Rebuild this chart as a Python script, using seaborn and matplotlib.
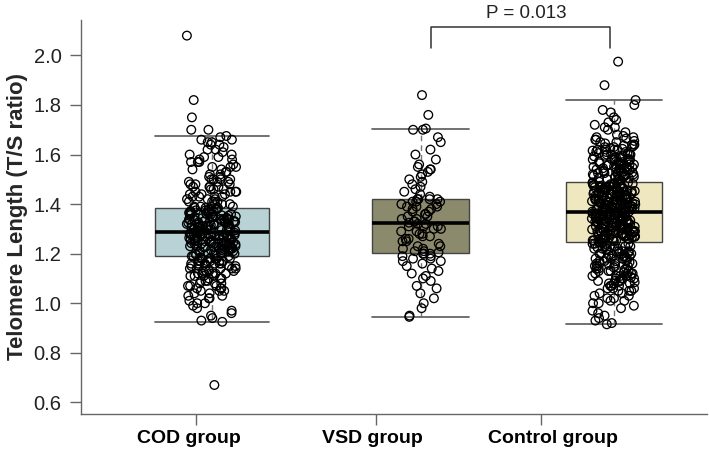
import numpy as np
import pandas as pd
import matplotlib
matplotlib.use("Agg")
import matplotlib.pyplot as plt
import seaborn as sns

# === Data (T/S ratio values) ===
groups = ["COD group", "VSD group", "Control group"]
box_colors = ["#b8d2d5", "#8c8a6c", "#efe7bf"]

cod_values = [
    0.67,
    0.925, 0.93, 0.94, 0.96, 0.97, 0.99, 1.00, 1.01, 1.02, 1.03, 1.04, 1.05, 1.05, 1.06,
    1.07, 1.07, 1.08, 1.08, 1.09, 1.09, 1.10, 1.10, 1.11, 1.11, 1.12, 1.12, 1.12, 1.13,
    1.13, 1.14, 1.14, 1.14, 1.15, 1.15, 1.15, 1.16, 1.16, 1.16, 1.17, 1.17, 1.17, 1.17,
    1.18, 1.18, 1.18, 1.18, 1.185, 1.185, 1.02, 0.98, 1.06, 1.12, 1.16,
    0.95, 1.00, 1.03, 1.05, 1.06, 1.08, 1.09, 1.10, 1.11, 1.12, 1.13, 1.13, 1.14, 1.15,
    1.15, 1.16, 1.16, 1.17, 1.17, 1.18, 1.18, 1.07, 1.11, 1.14, 1.04,
    1.19, 1.19, 1.192, 1.195, 1.20, 1.20, 1.202, 1.205, 1.207, 1.21, 1.21, 1.212, 1.215,
    1.218, 1.22, 1.22, 1.222, 1.224, 1.226, 1.228, 1.23, 1.23, 1.232, 1.235, 1.238,
    1.24, 1.24, 1.242, 1.244, 1.246, 1.248, 1.25, 1.25, 1.252, 1.254, 1.256, 1.258,
    1.26, 1.26, 1.262, 1.264, 1.266, 1.268, 1.27, 1.27, 1.272, 1.274, 1.276, 1.278,
    1.28, 1.28, 1.282, 1.284, 1.286,
    1.19, 1.20, 1.21, 1.215, 1.22, 1.225, 1.23, 1.235, 1.24, 1.245, 1.25, 1.255, 1.26,
    1.265, 1.27, 1.275, 1.28, 1.28, 1.20, 1.22, 1.24, 1.26, 1.27, 1.23, 1.25,
    1.29, 1.29, 1.292, 1.294, 1.296, 1.298, 1.30, 1.30, 1.302, 1.304, 1.306, 1.308,
    1.31, 1.31, 1.312, 1.314, 1.316, 1.318, 1.32, 1.32, 1.323, 1.326, 1.328, 1.33,
    1.33, 1.332, 1.334, 1.336, 1.338, 1.34, 1.34, 1.343, 1.346, 1.348, 1.35, 1.35,
    1.353, 1.356, 1.358, 1.36, 1.36, 1.363, 1.366, 1.368, 1.37, 1.372, 1.375, 1.378,
    1.38, 1.381, 1.383, 1.384, 1.385, 1.385,
    1.29, 1.295, 1.30, 1.305, 1.31, 1.315, 1.32, 1.325, 1.33, 1.335, 1.34, 1.345, 1.35,
    1.355, 1.36, 1.365, 1.37, 1.375, 1.38, 1.30, 1.32, 1.34, 1.36, 1.31, 1.33,
    1.39, 1.39, 1.40, 1.40, 1.41, 1.41, 1.42, 1.42, 1.43, 1.43, 1.44, 1.44, 1.45, 1.45,
    1.46, 1.46, 1.47, 1.47, 1.48, 1.48, 1.49, 1.49, 1.50, 1.50, 1.51, 1.52, 1.52, 1.53,
    1.54, 1.55, 1.55, 1.56, 1.57, 1.58, 1.58, 1.59, 1.60, 1.61, 1.62, 1.63, 1.64, 1.65,
    1.65, 1.66, 1.66, 1.67, 1.675, 1.60, 1.57,
    1.39, 1.40, 1.41, 1.42, 1.43, 1.44, 1.45, 1.46, 1.47, 1.48, 1.49, 1.50, 1.51, 1.53,
    1.55, 1.57, 1.59, 1.62, 1.64, 1.41, 1.43, 1.45, 1.47, 1.50, 1.54,
    1.70, 1.70, 1.75, 1.82, 2.08,
]

vsd_values = [
    0.945, 0.95, 0.98, 1.00, 1.02, 1.04, 1.06, 1.07, 1.09, 1.10, 1.11, 1.12, 1.13, 1.14,
    1.15, 1.16, 1.17, 1.17, 1.18, 1.18, 1.19, 1.19, 1.20, 1.20, 1.20,
    1.205, 1.21, 1.21, 1.22, 1.22, 1.23, 1.23, 1.24, 1.25, 1.25, 1.26, 1.26, 1.27, 1.27,
    1.28, 1.28, 1.29, 1.29, 1.30, 1.30, 1.31, 1.31, 1.31, 1.32, 1.32,
    1.325, 1.33, 1.33, 1.34, 1.34, 1.35, 1.35, 1.36, 1.36, 1.37, 1.37, 1.38, 1.38, 1.39,
    1.39, 1.39, 1.40, 1.40, 1.41, 1.41, 1.41, 1.42, 1.42, 1.42, 1.42,
    1.43, 1.44, 1.45, 1.46, 1.47, 1.48, 1.49, 1.50, 1.51, 1.52, 1.53, 1.54, 1.54, 1.55,
    1.56, 1.58, 1.60, 1.62, 1.65, 1.67, 1.70, 1.70, 1.705, 1.76, 1.84,
]

control_values = [
    0.915, 0.92, 0.93, 0.95, 0.96, 0.98, 0.99, 1.00, 1.00, 1.01, 1.02, 1.02, 1.03, 1.04,
    1.04, 1.05, 1.05, 1.06, 1.06, 1.07, 1.07, 1.08, 1.08, 1.085, 1.09, 1.09, 1.10, 1.10,
    1.105, 1.11, 1.11, 1.12, 1.12, 1.125, 1.13, 1.13, 1.135, 1.14, 1.14, 1.145, 1.15,
    1.15, 1.155, 1.16, 1.16, 1.165, 1.17, 1.17, 1.175, 1.18, 1.18, 1.185, 1.19, 1.19,
    1.195, 1.20, 1.20, 1.205, 1.21, 1.21, 1.215, 1.22, 1.22, 1.225, 1.23, 1.23, 1.235,
    1.24, 1.24, 1.245, 1.245,
    0.94, 0.97, 1.01, 1.03, 1.05, 1.06, 1.07, 1.08, 1.09, 1.10, 1.11, 1.12, 1.13, 1.14,
    1.15, 1.16, 1.17, 1.18, 1.19, 1.20, 1.21, 1.22, 1.23, 1.24, 1.10, 1.12, 1.14, 1.16,
    1.18, 1.20, 1.22, 1.24, 1.13, 1.15, 1.17, 1.19, 1.21, 1.23, 1.09, 1.11,
    1.25, 1.252, 1.254, 1.256, 1.258, 1.259, 1.26, 1.262, 1.264, 1.266, 1.268, 1.269,
    1.27, 1.272, 1.274, 1.276, 1.278, 1.279, 1.28, 1.282, 1.284, 1.286, 1.288, 1.289,
    1.29, 1.292, 1.294, 1.296, 1.298, 1.299, 1.30, 1.302, 1.304, 1.306, 1.308, 1.309,
    1.31, 1.312, 1.314, 1.316, 1.318, 1.319, 1.32, 1.322, 1.324, 1.326, 1.328, 1.329,
    1.33, 1.332, 1.334, 1.336, 1.338, 1.339, 1.34, 1.342, 1.344, 1.346, 1.348, 1.349,
    1.35, 1.352, 1.354, 1.356, 1.358, 1.359, 1.36, 1.361, 1.362, 1.363, 1.364,
    1.25, 1.253, 1.257, 1.26, 1.263, 1.267, 1.27, 1.273, 1.277, 1.28, 1.283, 1.287,
    1.29, 1.293, 1.297, 1.30, 1.303, 1.307, 1.31, 1.313, 1.317, 1.32, 1.323, 1.327,
    1.33, 1.333, 1.337, 1.34, 1.343, 1.347, 1.35, 1.353, 1.357, 1.36, 1.362,
    1.27, 1.29, 1.31, 1.33, 1.35,
    1.37, 1.372, 1.374, 1.376, 1.378, 1.379, 1.38, 1.382, 1.384, 1.386, 1.388, 1.389,
    1.39, 1.392, 1.394, 1.396, 1.398, 1.399, 1.40, 1.402, 1.404, 1.406, 1.408, 1.409,
    1.41, 1.412, 1.414, 1.416, 1.418, 1.419, 1.42, 1.422, 1.424, 1.426, 1.428, 1.429,
    1.43, 1.432, 1.434, 1.436, 1.438, 1.439, 1.44, 1.442, 1.444, 1.446, 1.448, 1.449,
    1.45, 1.452, 1.454, 1.456, 1.458, 1.459, 1.46, 1.462, 1.464, 1.466, 1.468, 1.469,
    1.47, 1.472, 1.474, 1.476, 1.478, 1.48, 1.482, 1.484, 1.486, 1.488, 1.49,
    1.37, 1.373, 1.377, 1.38, 1.383, 1.387, 1.39, 1.393, 1.397, 1.40, 1.403, 1.407,
    1.41, 1.413, 1.417, 1.42, 1.423, 1.427, 1.43, 1.433, 1.437, 1.44, 1.443, 1.447,
    1.45, 1.453, 1.457, 1.46, 1.463, 1.467, 1.47, 1.473, 1.477, 1.48, 1.485,
    1.38, 1.40, 1.42, 1.44, 1.46,
    1.495, 1.50, 1.502, 1.505, 1.508, 1.51, 1.512, 1.515, 1.518, 1.52, 1.522, 1.525,
    1.528, 1.53, 1.532, 1.535, 1.538, 1.54, 1.542, 1.545, 1.548, 1.55, 1.552, 1.555,
    1.558, 1.56, 1.563, 1.566, 1.57, 1.572, 1.575, 1.578, 1.58, 1.583, 1.586, 1.59,
    1.593, 1.596, 1.60, 1.603, 1.606, 1.61, 1.613, 1.616, 1.62, 1.623, 1.626, 1.63,
    1.633, 1.636, 1.64, 1.645, 1.65, 1.655, 1.66, 1.665, 1.67, 1.675, 1.68, 1.70, 1.71,
    1.72, 1.73, 1.75, 1.78, 1.80, 1.82, 1.88, 1.975, 1.60, 1.62,
    1.50, 1.505, 1.51, 1.515, 1.52, 1.525, 1.53, 1.535, 1.54, 1.545, 1.55, 1.555, 1.56,
    1.565, 1.57, 1.575, 1.58, 1.585, 1.59, 1.595, 1.60, 1.61, 1.62, 1.63, 1.64, 1.65,
    1.66, 1.67, 1.69, 1.71, 1.74, 1.77, 1.52, 1.54, 1.56, 1.58, 1.60, 1.62, 1.64, 1.51,
]

y_ticks = [0.6, 0.8, 1.0, 1.2, 1.4, 1.6, 1.8, 2.0]
p_text = "P = 0.013"

# layout (axes-width units): box centres, tick marks, label centres, box widths, jitter
box_pos = [0.209, 0.543, 0.851]
tick_pos = [0.184, 0.471, 0.735]
label_pos = [0.1725, 0.466, 0.754]
box_width = [0.182, 0.155, 0.153]
jitter = [0.040, 0.032, 0.035]

all_values = [cod_values, vsd_values, control_values]

np.random.seed(3)
sns.set_style("ticks")
plt.rcParams["font.family"] = ["Liberation Sans", "DejaVu Sans"]

fig = plt.figure(figsize=(7.09, 4.54), dpi=100)
ax = fig.add_axes([81 / 709, 1 - 414 / 454, 626 / 709, 394 / 454])

for i, vals in enumerate(all_values):
    df = pd.DataFrame({"x": [box_pos[i]] * len(vals), "y": vals})
    sns.boxplot(data=df, x="x", y="y", native_scale=True, width=box_width[i],
                color=box_colors[i], saturation=1, showfliers=False,
                linecolor="#444444", linewidth=1.0,
                whiskerprops=dict(linestyle=(0, (4, 3)), color="#777777", linewidth=1.0),
                capprops=dict(color="#666666", linewidth=1.3),
                medianprops=dict(color="black", linewidth=2.6),
                capwidths=box_width[i], ax=ax)
    sns.stripplot(data=df, x="x", y="y", native_scale=True, jitter=jitter[i],
                  color="black", facecolors="none", edgecolor="black",
                  linewidth=0.95, size=6.2, ax=ax)

ax.set_xlim(0, 1)
ax.set_ylim(0.553, 2.143)
ax.set_yticks(y_ticks)
ax.set_yticklabels([f"{t:.1f}" for t in y_ticks], fontsize=14.5, color="#222222")
ax.set_xticks(tick_pos)
ax.set_xticklabels([])
for name, xp in zip(groups, label_pos):
    ax.text(xp, -0.041, name, transform=ax.get_xaxis_transform(), ha="center",
            va="top", fontsize=14, fontweight="bold", color="black")
ax.tick_params(axis="both", length=8, width=1, color="#666666")
ax.tick_params(axis="y", pad=6)
ax.set_xlabel("")
ax.set_ylabel("Telomere Length (T/S ratio)", fontsize=16, fontweight="bold", labelpad=4)
for s in ["left", "bottom"]:
    ax.spines[s].set_color("#666666")
    ax.spines[s].set_linewidth(1.0)
sns.despine(ax=ax)

# significance bracket VSD vs Control
ax.plot([0.559, 0.559, 0.845, 0.845], [2.030, 2.115, 2.115, 2.030],
        color="#333333", linewidth=1.1, clip_on=False)
ax.text(0.712, 2.153, p_text, ha="center", va="baseline", fontsize=13.5,
        color="#222222", clip_on=False)

fig.savefig("out.png", dpi=100)
